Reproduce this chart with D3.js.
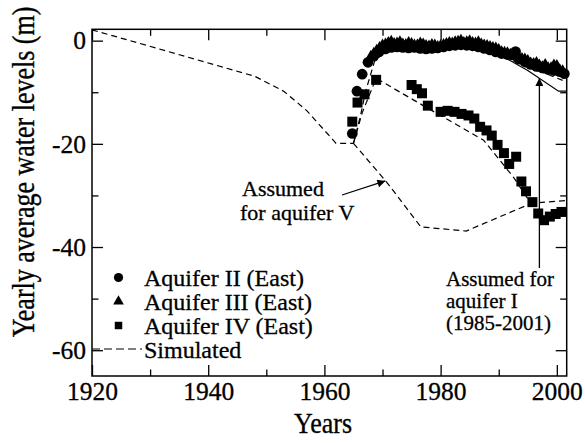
<!DOCTYPE html>
<html>
<head>
<meta charset="utf-8">
<script src="https://cdn.jsdelivr.net/npm/d3@7"></script>
<style>
  html, body { margin: 0; padding: 0; background: #fff; }
  svg { display: block; }
</style>
</head>
<body>
<svg id="chart" width="585" height="443"></svg>
<script>
// ---------- data ----------
const xMajorTicks = [1920, 1940, 1960, 1980, 2000];
const xMinorTicks = [1930, 1950, 1970, 1990];
const yMajorTicks = [0, -20, -40, -60];
const yMinorTicks = [-10, -30, -50];

// Aquifer II (East) - circles
const aqIIYears = [1964.8, 1965.6, 1966.5, 1967.5, 1968.5, 1969.4, 1970.5, 1971.5, 1972.5, 1973.5, 1974.5, 1975.5, 1976.5, 1977.5, 1978.5, 1979.5, 1980.5, 1981.5, 1982.5, 1983.5, 1984.5, 1985.5, 1986.5, 1987.5, 1988.5, 1989.5, 1990.5, 1991.5, 1992.9, 1993.5, 1994.5, 1995.5, 1996.5, 1997.5, 1998.5, 1999.5, 2000.5, 2001.3];
const aqIIValues = [-18.0, -9.8, -6.5, -4.2, -3.0, -2.2, -1.6, -1.3, -1.2, -1.3, -1.4, -1.3, -1.5, -1.6, -1.5, -1.4, -1.2, -1.0, -0.9, -0.8, -0.9, -1.0, -1.2, -1.5, -1.8, -2.2, -2.5, -2.7, -2.1, -3.6, -4.1, -4.6, -5.0, -5.3, -5.6, -5.8, -6.0, -6.4];

// Aquifer III (East) - triangles
const aqIIIYears = [1968, 1968.5, 1969, 1969.5, 1970, 1970.5, 1971, 1971.5, 1972, 1972.5, 1973, 1973.5, 1974, 1974.5, 1975, 1975.5, 1976, 1976.5, 1977, 1977.5, 1978, 1978.5, 1979, 1979.5, 1980, 1980.5, 1981, 1981.5, 1982, 1982.5, 1983, 1983.5, 1984, 1984.5, 1985, 1985.5, 1986, 1986.5, 1987, 1987.5, 1988, 1988.5, 1989, 1989.5, 1990, 1990.5, 1991, 1991.5, 1992, 1992.5, 1993, 1993.5, 1994, 1994.5, 1995, 1995.5, 1996, 1996.5, 1997, 1997.5, 1998, 1998.5, 1999, 1999.5, 2000, 2000.5, 2001];
const aqIIIValues = [-3.2, -2.6, -2.0, -1.5, -1.0, -0.8, -0.5, -0.3, -0.7, -0.6, -0.4, -0.8, -0.9, -0.5, -0.7, -1.0, -1.0, -0.6, -0.8, -1.1, -1.2, -0.9, -1.0, -1.3, -1.1, -0.9, -0.7, -0.5, -0.6, -0.4, -0.3, -0.1, -0.5, -0.4, -0.2, -0.5, -0.6, -0.4, -0.8, -1.0, -1.1, -1.3, -1.5, -1.6, -1.9, -2.3, -2.4, -2.5, -2.8, -3.0, -3.1, -3.4, -3.6, -3.7, -4.0, -4.5, -4.6, -4.4, -4.9, -5.2, -4.8, -5.4, -5.4, -4.9, -5.0, -5.8, -6.0];

// Aquifer IV (East) - squares
const aqIVYears = [1964.8, 1965.7, 1966.9, 1968.9, 1975.0, 1975.9, 1976.8, 1977.8, 1980.0, 1981.2, 1982.4, 1983.6, 1984.8, 1985.8, 1986.8, 1987.9, 1988.8, 1989.8, 1990.9, 1991.8, 1993.0, 1993.9, 1994.7, 1995.8, 1996.8, 1997.8, 1998.8, 1999.8, 2000.8];
const aqIVValues = [-15.7, -12.0, -10.4, -7.6, -8.6, -9.4, -10.2, -12.6, -13.8, -13.6, -13.8, -14.2, -14.5, -15.1, -16.7, -17.4, -18.4, -20.2, -21.8, -23.9, -22.5, -27.3, -29.2, -31.3, -33.5, -34.8, -34.1, -33.6, -33.2];

// Simulated (dashed) lines
const simTrunkYears = [1920, 1948, 1953, 1957, 1962, 1965];
const simTrunkValues = [2.1, -6.9, -9.8, -13.6, -19.9, -19.9];
const simVYears = [1965, 1970.7, 1976.6, 1984.4, 1995.5];
const simVValues = [-19.9, -27.4, -36.1, -36.9, -31.6];
const simIVYears = [1965, 1966.5, 1968.9, 1977.5, 1987.4, 1992.5, 1995.5, 2001.7];
const simIVValues = [-19.9, -14.0, -7.3, -12.9, -19.3, -26.4, -31.5, -31.0];
const simIIYears = [1965, 1966.2, 1967.1, 1969.0, 1975, 1985, 1990, 1995, 2001.0];
const simIIValues = [-19.9, -14.6, -9.8, -2.6, -1.2, -1.0, -2.2, -5.0, -7.7];
// Assumed for aquifer I (solid)
const aqIYears = [1985, 1990, 1995, 2000.3, 2001.7];
const aqIValues = [-1.2, -2.6, -5.8, -9.8, -9.8];

const legendLabels = ["Aquifer II (East)", "Aquifer III (East)", "Aquifer IV (East)", "Simulated"];

// ---------- chart ----------
const FONT = "'Liberation Serif', 'Times New Roman', Tinos, serif";
const svg = d3.select("#chart").style("font-family", FONT);
const pLeft = 92, pRight = 566.7, pTop = 29.3, pBottom = 376;
const x = d3.scaleLinear().domain([1920, 2001.7]).range([pLeft, pRight]);
const y = d3.scaleLinear().domain([-65, 2.2]).range([pBottom, pTop]);

const toPts = (xs, ys) => xs.map((d, i) => [d, ys[i]]);
const line = d3.line().x(d => x(d[0])).y(d => y(d[1]));

// defs: arrowhead
svg.append("defs").append("marker")
  .attr("id", "arrow").attr("viewBox", "0 0 10 10").attr("refX", 10).attr("refY", 5)
  .attr("markerWidth", 12).attr("markerHeight", 8).attr("markerUnits", "userSpaceOnUse")
  .attr("orient", "auto")
  .append("path").attr("d", "M0,0 L10,5 L0,10 z").attr("fill", "#000");

// axes with inward ticks
const gx = svg.append("g").attr("transform", `translate(0,${pBottom})`)
  .call(d3.axisBottom(x).tickValues(xMajorTicks).tickFormat(d3.format("d")).tickSize(-11).tickPadding(6));
svg.append("g").attr("transform", `translate(0,${pBottom})`)
  .call(d3.axisBottom(x).tickValues(xMinorTicks).tickFormat("").tickSize(-6.5));
svg.append("g").attr("transform", `translate(0,${pTop})`)
  .call(d3.axisTop(x).tickValues(xMajorTicks).tickFormat("").tickSize(-11));
svg.append("g").attr("transform", `translate(0,${pTop})`)
  .call(d3.axisTop(x).tickValues(xMinorTicks).tickFormat("").tickSize(-6.5));
const gy = svg.append("g").attr("transform", `translate(${pLeft},0)`)
  .call(d3.axisLeft(y).tickValues(yMajorTicks).tickFormat(d3.format("d")).tickSize(-11).tickPadding(6));
svg.append("g").attr("transform", `translate(${pLeft},0)`)
  .call(d3.axisLeft(y).tickValues(yMinorTicks).tickFormat("").tickSize(-6.5));
svg.append("g").attr("transform", `translate(${pRight},0)`)
  .call(d3.axisRight(y).tickValues(yMajorTicks).tickFormat("").tickSize(-11));
svg.append("g").attr("transform", `translate(${pRight},0)`)
  .call(d3.axisRight(y).tickValues(yMinorTicks).tickFormat("").tickSize(-6.5));

svg.selectAll(".domain").remove();
svg.selectAll("g").attr("font-family", null).attr("font-size", null);
svg.selectAll(".tick line").attr("stroke", "#000").attr("stroke-width", 1.3);
svg.selectAll(".tick text").style("font-family", FONT).style("font-size", "25.5px").attr("fill", "#000")
  .attr("stroke", "#000").attr("stroke-width", 0.3);
gy.selectAll(".tick text").text(d => d === 0 ? "0" : "-" + Math.abs(d));

// frame
svg.append("rect").attr("x", pLeft).attr("y", pTop).attr("width", pRight - pLeft).attr("height", pBottom - pTop)
  .attr("fill", "none").attr("stroke", "#000").attr("stroke-width", 1.5);

// simulated dashed lines
const dashed = svg.append("g").attr("fill", "none").attr("stroke", "#000").attr("stroke-width", 1.2).attr("stroke-dasharray", "6,4");
[toPts(simTrunkYears, simTrunkValues), toPts(simVYears, simVValues), toPts(simIVYears, simIVValues), toPts(simIIYears, simIIValues)]
  .forEach(p => dashed.append("path").attr("d", line(p)));

// assumed for aquifer I (solid)
svg.append("path").attr("d", line(toPts(aqIYears, aqIValues)))
  .attr("fill", "none").attr("stroke", "#000").attr("stroke-width", 1.2);

// markers
const sym = (type, size) => d3.symbol().type(type).size(size)();
svg.append("g").selectAll("path").data(toPts(aqIVYears, aqIVValues)).join("path")
  .attr("d", sym(d3.symbolSquare, 100)).attr("transform", d => `translate(${x(d[0])},${y(d[1])})`).attr("fill", "#000");
svg.append("g").selectAll("path").data(toPts(aqIIYears, aqIIValues)).join("path")
  .attr("d", sym(d3.symbolCircle, 90)).attr("transform", d => `translate(${x(d[0])},${y(d[1])})`).attr("fill", "#000");
svg.append("g").selectAll("path").data(toPts(aqIIIYears, aqIIIValues)).join("path")
  .attr("d", sym(d3.symbolTriangle, 70)).attr("transform", d => `translate(${x(d[0])},${y(d[1])})`).attr("fill", "#000");

// text helper
const txt = (g, xx, yy, s, size, anchor) => g.append("text").attr("x", xx).attr("y", yy)
  .attr("text-anchor", anchor || "start").style("font-family", FONT).style("font-size", size + "px")
  .attr("fill", "#000").attr("stroke", "#000").attr("stroke-width", 0.3).text(s);

// annotations
const ann = svg.append("g");
txt(ann, 242, 196, "Assumed", 22);
txt(ann, 240, 219.5, "for aquifer V", 22);
ann.append("line").attr("x1", 342).attr("y1", 195).attr("x2", x(1970.5)).attr("y2", y(-27.2))
  .attr("stroke", "#000").attr("stroke-width", 1.3).attr("marker-end", "url(#arrow)");

ann.append("line").attr("x1", x(1997.0)).attr("y1", 268).attr("x2", x(1997.0)).attr("y2", 78)
  .attr("stroke", "#000").attr("stroke-width", 1.3).attr("marker-end", "url(#arrow)");
txt(ann, 446, 286, "Assumed for", 21);
txt(ann, 446, 308, "aquifer I", 21);
txt(ann, 446, 330, "(1985-2001)", 21);

// legend
const lg = svg.append("g");
const lgBase = [285.5, 309.5, 333.5, 357.5];
const lgTypes = [d3.symbolCircle, d3.symbolTriangle, d3.symbolSquare];
const lgSizes = [66, 50, 56];
lgTypes.forEach((t, i) => {
  lg.append("path").attr("d", sym(t, lgSizes[i])).attr("transform", `translate(118.5,${lgBase[i] - 8})`).attr("fill", "#000");
});
lg.append("line").attr("x1", pLeft).attr("x2", 142).attr("y1", lgBase[3] - 8.5).attr("y2", lgBase[3] - 8.5)
  .attr("stroke", "#000").attr("stroke-width", 1.2).attr("stroke-dasharray", "8,4");
legendLabels.forEach((t, i) => txt(lg, 144, lgBase[i], t, 24));

// axis titles
txt(svg, 0, 0, "Years", 26, "middle").attr("transform", "translate(323,433) scale(1,1.15)");
txt(svg, 0, 0, "Yearly average water levels (m)", 26, "middle").attr("transform", "translate(33.5,172) rotate(-90) scale(1,1.2)");
</script>
</body>
</html>
